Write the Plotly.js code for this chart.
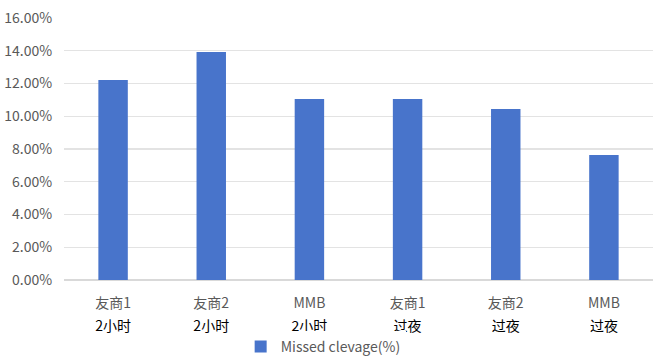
<!DOCTYPE html>
<html>
<head>
<meta charset="utf-8">
<script src="https://cdn.plot.ly/plotly-3.0.1.min.js"></script>
<style>html,body{margin:0;padding:0;background:#fff;}#chart{width:665px;height:357px;}</style>
</head>
<body>
<div id="chart"></div>
<script>
var groups = ["友商1", "友商2", "MMB", "友商1", "友商2", "MMB"];
var periods = ["2小时", "2小时", "2小时", "过夜", "过夜", "过夜"];
var missedCleavage = [0.1221, 0.1392, 0.1106, 0.1106, 0.1044, 0.0763];
var yTicks = [0, 0.02, 0.04, 0.06, 0.08, 0.10, 0.12, 0.14, 0.16];
var seriesName = "Missed clevage(%)";

var idx = groups.map(function(_, i){ return i; });
var tickText = groups.map(function(g, i){
  return "<span style='font-size:14px'>" + g + "</span><br><span style='font-size:14px;color:#000000'>" + periods[i] + "</span>";
});

var trace = {
  type: "bar",
  x: idx,
  y: missedCleavage,
  name: seriesName,
  marker: {color: "#4874CB"},
  showlegend: true
};

var layout = {
  width: 665, height: 357,
  margin: {l: 64, r: 12, t: 18, b: 77, autoexpand: false},
  paper_bgcolor: "#ffffff",
  plot_bgcolor: "#ffffff",
  font: {family: "'Noto Sans CJK SC', 'Open Sans', sans-serif", color: "#595959", size: 12},
  bargap: 0.7,
  xaxis: {
    tickmode: "array",
    tickvals: idx,
    ticktext: tickText,
    range: [-0.5, 5.5],
    showgrid: false,
    zeroline: false,
    showline: false,
    ticks: "outside",
    ticklen: 5,
    tickcolor: "rgba(0,0,0,0)",
    tickfont: {size: 18, color: "#595959"},
    automargin: false,
    fixedrange: true
  },
  yaxis: {
    range: [0, 0.16],
    tickmode: "array",
    tickvals: yTicks,
    tickformat: ".2%",
    showgrid: true,
    gridcolor: "#E3E3E3",
    gridwidth: 1.3,
    zeroline: true,
    zerolinecolor: "#D9D9D9",
    zerolinewidth: 1.5,
    showline: false,
    ticks: "outside",
    ticklen: 8,
    tickcolor: "rgba(0,0,0,0)",
    tickfont: {size: 14, color: "#595959"},
    automargin: false,
    fixedrange: true
  },
  showlegend: true,
  legend: {
    orientation: "h",
    x: 0.44, xanchor: "center",
    yref: "container",
    y: 0.028, yanchor: "middle",
    font: {size: 14, color: "#595959"},
    itemwidth: 30
  }
};

Plotly.newPlot("chart", [trace], layout, {displayModeBar: false, staticPlot: true});
</script>
</body>
</html>
